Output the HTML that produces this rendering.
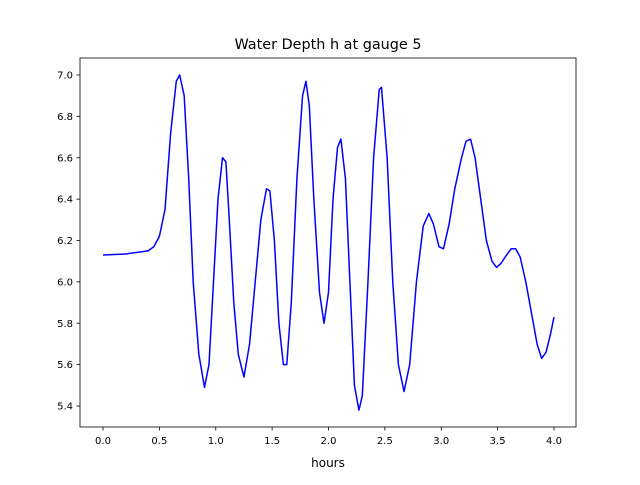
<!DOCTYPE html>
<html><head><meta charset="utf-8"><style>
html,body{margin:0;padding:0;background:#fff;}
svg text{font-family:"DejaVu Sans","Liberation Sans",sans-serif;fill:#000;}
</style></head><body>
<svg width="640" height="480" viewBox="0 0 640 480" id="chart">
<rect width="640" height="480" fill="#fff"/>
<text x="328" y="49" text-anchor="middle" font-size="14.4">Water Depth h at gauge 5</text>
<g id="axes"></g>
<text x="328" y="467" text-anchor="middle" font-size="12">hours</text>
</svg>
<script>
const hours = [0.0,0.2,0.4,0.45,0.5,0.55,0.6,0.65,0.68,0.72,0.76,0.8,0.85,0.9,0.94,0.98,1.02,1.06,1.09,1.12,1.16,1.2,1.25,1.3,1.35,1.4,1.45,1.48,1.52,1.56,1.6,1.63,1.67,1.72,1.77,1.8,1.83,1.87,1.92,1.96,2.0,2.04,2.08,2.11,2.15,2.19,2.23,2.27,2.3,2.35,2.4,2.45,2.47,2.52,2.57,2.62,2.67,2.72,2.78,2.84,2.89,2.93,2.98,3.02,3.07,3.12,3.18,3.22,3.26,3.3,3.35,3.4,3.45,3.49,3.53,3.58,3.62,3.66,3.7,3.75,3.8,3.85,3.89,3.93,3.97,4.0];
const depth = [6.13,6.135,6.15,6.17,6.22,6.35,6.72,6.97,7.0,6.9,6.5,6.0,5.65,5.49,5.6,6.0,6.4,6.6,6.58,6.3,5.9,5.65,5.54,5.7,6.0,6.3,6.45,6.44,6.2,5.8,5.6,5.6,5.9,6.5,6.9,6.97,6.85,6.4,5.95,5.8,5.95,6.4,6.65,6.69,6.5,6.0,5.5,5.38,5.45,6.0,6.6,6.93,6.94,6.6,6.0,5.6,5.47,5.6,6.0,6.27,6.33,6.28,6.17,6.16,6.28,6.45,6.6,6.68,6.69,6.6,6.4,6.2,6.1,6.07,6.09,6.13,6.16,6.16,6.12,6.0,5.85,5.7,5.63,5.66,5.75,5.83];
const xTicks = [0.0,0.5,1.0,1.5,2.0,2.5,3.0,3.5,4.0];
const yTicks = [5.4,5.6,5.8,6.0,6.2,6.4,6.6,6.8,7.0];
const L=80,R=576,T=58,B=427;
function xs(v){return 103+v*(554-103)/4;}
function ys(v){return 75+(7.0-v)*(406-75)/1.6;}
const NS="http://www.w3.org/2000/svg";
const g=document.getElementById('axes');
function mk(tag,attrs){const e=document.createElementNS(NS,tag);for(const k in attrs)e.setAttribute(k,attrs[k]);g.appendChild(e);return e;}
let d=hours.map((h,i)=>(i?'L':'M')+xs(h).toFixed(2)+','+ys(depth[i]).toFixed(2)).join(' ');
const line=mk('path',{d:d,fill:'none',stroke:'#0000ff','stroke-width':1.5,'stroke-linejoin':'round'});


const frame=mk('rect',{x:L,y:T,width:R-L,height:B-T,fill:'none',stroke:'#000','stroke-width':0.8});


xTicks.forEach(v=>{
  const x=xs(v);
  mk('line',{x1:x,x2:x,y1:B,y2:B+3.5,stroke:'#000','stroke-width':0.8});
  const t=mk('text',{x:x,y:B+17,'text-anchor':'middle','font-size':10});
  t.textContent=v.toFixed(1);
  
  
});
yTicks.forEach(v=>{
  const y=ys(v);
  mk('line',{x1:L-3.5,x2:L,y1:y,y2:y,stroke:'#000','stroke-width':0.8});
  const t=mk('text',{x:L-7,y:y+3.5,'text-anchor':'end','font-size':10});
  t.textContent=v.toFixed(1);
  
  
});
</script>
</body></html>
